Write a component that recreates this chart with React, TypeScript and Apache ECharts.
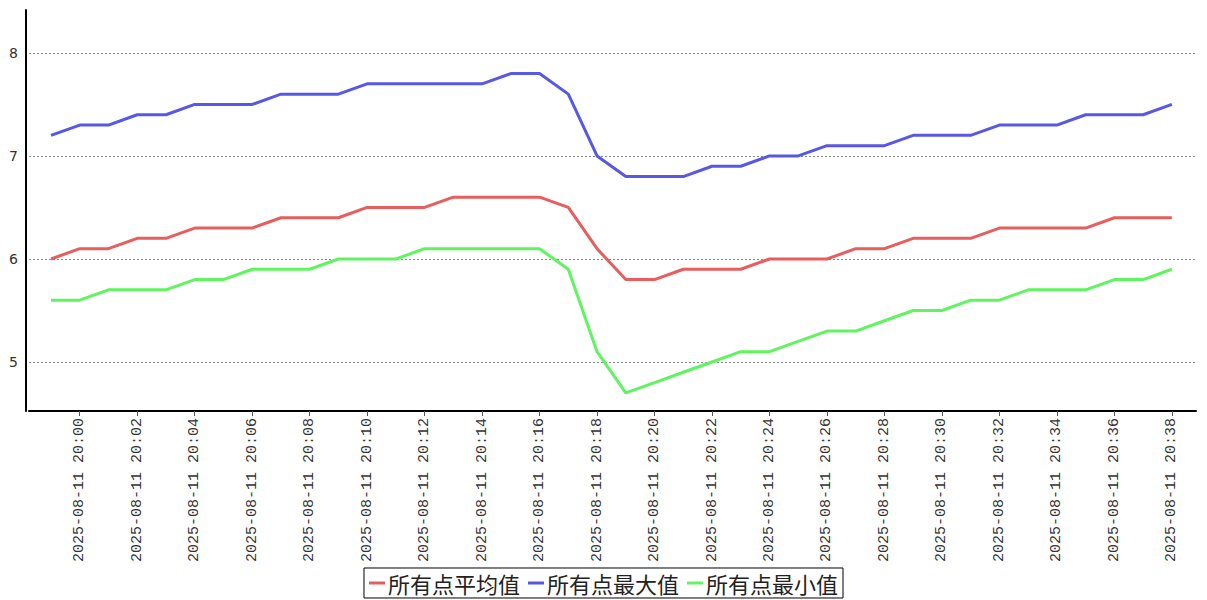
import React, { useEffect, useRef } from "react";
import * as echarts from "echarts";

const times: string[] = [
  "19:59", "20:00", "20:01", "20:02", "20:03", "20:04", "20:05", "20:06", "20:07", "20:08",
  "20:09", "20:10", "20:11", "20:12", "20:13", "20:14", "20:15", "20:16", "20:17", "20:18",
  "20:19", "20:20", "20:21", "20:22", "20:23", "20:24", "20:25", "20:26", "20:27", "20:28",
  "20:29", "20:30", "20:31", "20:32", "20:33", "20:34", "20:35", "20:36", "20:37", "20:38",
].map((t) => "2025-08-11 " + t);

const avgValues: number[] = [
  6.0, 6.1, 6.1, 6.2, 6.2, 6.3, 6.3, 6.3, 6.4, 6.4,
  6.4, 6.5, 6.5, 6.5, 6.6, 6.6, 6.6, 6.6, 6.5, 6.1,
  5.8, 5.8, 5.9, 5.9, 5.9, 6.0, 6.0, 6.0, 6.1, 6.1,
  6.2, 6.2, 6.2, 6.3, 6.3, 6.3, 6.3, 6.4, 6.4, 6.4,
];
const maxValues: number[] = [
  7.2, 7.3, 7.3, 7.4, 7.4, 7.5, 7.5, 7.5, 7.6, 7.6,
  7.6, 7.7, 7.7, 7.7, 7.7, 7.7, 7.8, 7.8, 7.6, 7.0,
  6.8, 6.8, 6.8, 6.9, 6.9, 7.0, 7.0, 7.1, 7.1, 7.1,
  7.2, 7.2, 7.2, 7.3, 7.3, 7.3, 7.4, 7.4, 7.4, 7.5,
];
const minValues: number[] = [
  5.6, 5.6, 5.7, 5.7, 5.7, 5.8, 5.8, 5.9, 5.9, 5.9,
  6.0, 6.0, 6.0, 6.1, 6.1, 6.1, 6.1, 6.1, 5.9, 5.1,
  4.7, 4.8, 4.9, 5.0, 5.1, 5.1, 5.2, 5.3, 5.3, 5.4,
  5.5, 5.5, 5.6, 5.6, 5.7, 5.7, 5.7, 5.8, 5.8, 5.9,
];
const seriesNames: string[] = ["所有点平均值", "所有点最大值", "所有点最小值"];
const seriesColors: string[] = ["#e85d5d", "#5858e6", "#5ef55e"];
const labelIndices: number[] = times.map((_, i) => i).filter((i) => i % 2 === 1);

export default function App() {
  const ref = useRef<HTMLDivElement>(null);
  useEffect(() => {
    if (!ref.current) return;
    const chart = echarts.init(ref.current, undefined, { renderer: "svg" });
    const allSeries = [avgValues, maxValues, minValues];
    chart.setOption({
      animation: false,
      backgroundColor: "#ffffff",
      grid: { left: 29, right: 11, top: 10, bottom: 189, containLabel: false },
      legend: {
        show: true,
        bottom: 2,
        left: "center",
        data: seriesNames,
        icon: "rect",
        itemWidth: 16,
        itemHeight: 3,
        itemGap: 8,
        padding: [4, 5],
        borderColor: "#000",
        borderWidth: 1,
        textStyle: {
          fontFamily: "Noto Sans CJK SC",
          fontSize: 22,
          color: "#222",
          padding: [0, 0, 0, -2],
        },
      },
      xAxis: {
        type: "value",
        min: -0.765,
        max: 39.84,
        axisLine: { show: true, onZero: false, lineStyle: { color: "#000", width: 2 } },
        axisTick: {
          show: true,
          customValues: labelIndices,
          length: 5,
          lineStyle: { color: "#555", width: 1 },
        },
        axisLabel: {
          customValues: labelIndices,
          rotate: 90,
          margin: 7,
          fontFamily: "Liberation Mono",
          fontSize: 15,
          color: "#333",
          formatter: (v: number) => times[Math.round(v)] ?? "",
        },
        splitLine: { show: false },
      },
      yAxis: {
        type: "value",
        min: 4.524,
        max: 8.417,
        minInterval: 1,
        maxInterval: 1,
        offset: 3,
        axisLine: { show: true, onZero: false, lineStyle: { color: "#000", width: 2 } },
        axisTick: { show: false },
        axisLabel: {
          showMinLabel: false,
          showMaxLabel: false,
          margin: 8,
          fontFamily: "DejaVu Sans",
          fontSize: 14,
          color: "#333",
          formatter: (v: number) => (Math.abs(v - Math.round(v)) < 1e-6 ? String(Math.round(v)) : ""),
        },
        splitLine: {
          show: true,
          showMinLine: false,
          showMaxLine: false,
          lineStyle: { color: "#888", width: 1, type: [2, 2] },
        },
      },
      series: allSeries.map((vals, k) => ({
        name: seriesNames[k],
        type: "line",
        data: vals.map((v, i) => [i, v]),
        symbol: "none",
        showSymbol: false,
        lineStyle: { color: seriesColors[k], width: 3 },
        itemStyle: { color: seriesColors[k] },
      })),
    });
    return () => chart.dispose();
  }, []);
  return (
    <div
      ref={ref}
      style={{ position: "fixed", left: 0, top: 0, width: 1207, height: 600 }}
    />
  );
}
